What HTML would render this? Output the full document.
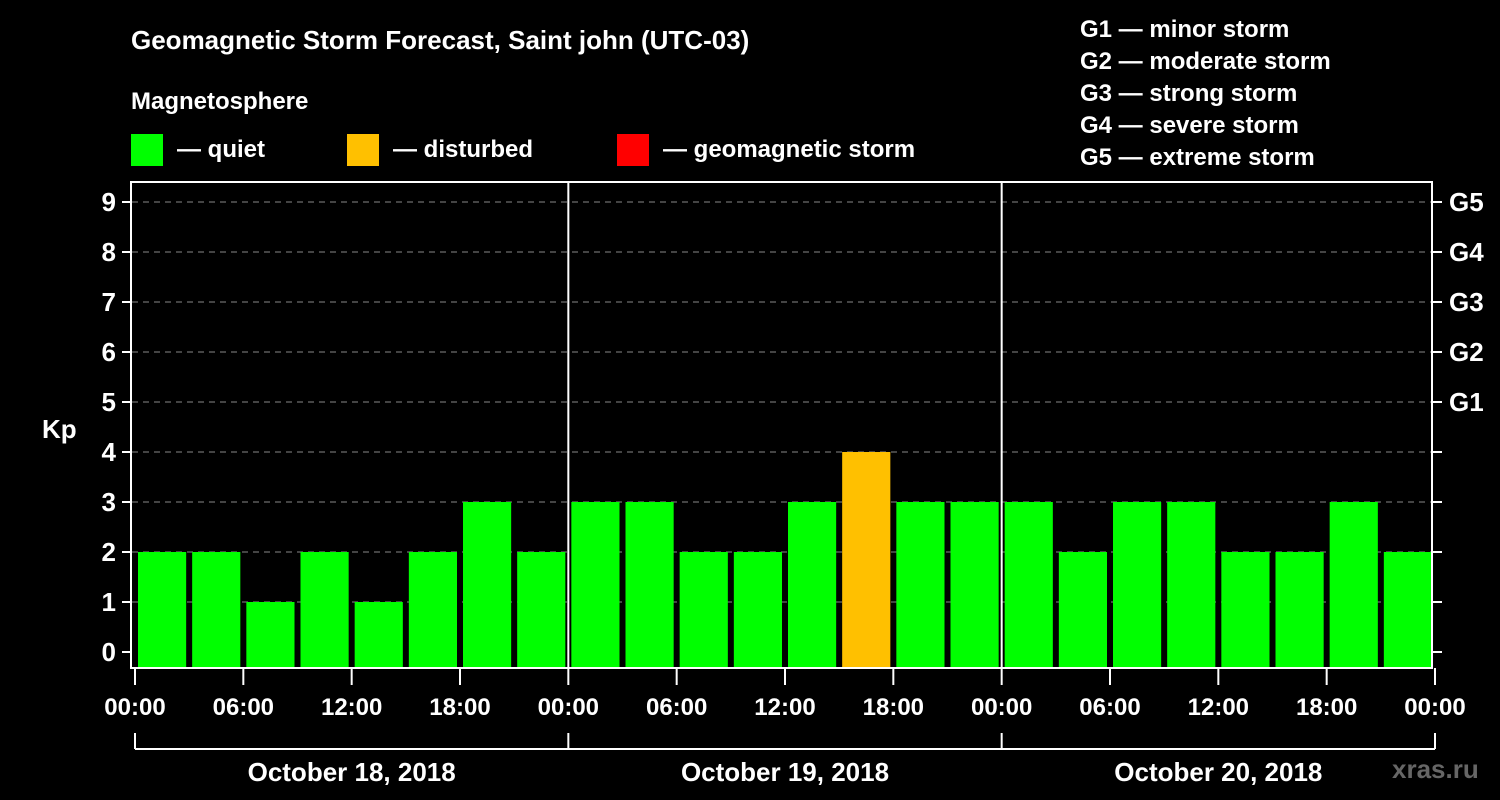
<!DOCTYPE html>
<html><head><meta charset="utf-8"><style>
body{margin:0;background:#000;}
svg{display:block;font-family:"Liberation Sans",Arial,sans-serif;font-weight:bold;}
</style></head><body>
<svg id="c" width="1500" height="800">
<text x="131" y="49" fill="#fff" font-size="26">Geomagnetic Storm Forecast, Saint john (UTC-03)</text>
<text x="131" y="109" fill="#fff" font-size="24">Magnetosphere</text>
<g><rect x="131" y="134" width="32" height="32" fill="#00ff00"/><text x="177" y="157" fill="#fff" font-size="24">— quiet</text></g>
<g><rect x="347" y="134" width="32" height="32" fill="#ffc000"/><text x="393" y="157" fill="#fff" font-size="24">— disturbed</text></g>
<g><rect x="617" y="134" width="32" height="32" fill="#ff0000"/><text x="663" y="157" fill="#fff" font-size="24">— geomagnetic storm</text></g>
<g fill="#fff" font-size="24">
<text x="1080" y="37">G1 — minor storm</text><text x="1080" y="69">G2 — moderate storm</text><text x="1080" y="101">G3 — strong storm</text><text x="1080" y="133">G4 — severe storm</text><text x="1080" y="165">G5 — extreme storm</text>
</g>
<text x="42" y="438" fill="#fff" font-size="26">Kp</text>
<text x="1392" y="778" fill="#666" font-size="26">xras.ru</text>
<g id="plot"></g>
</svg>
<script>
const values=[2,2,1,2,1,2,3,2,3,3,2,2,3,4,3,3,3,2,3,3,2,2,3,2];
const yTicks=[0,1,2,3,4,5,6,7,8,9];
const gLabels=[[5,"G1"],[6,"G2"],[7,"G3"],[8,"G4"],[9,"G5"]];
const xLabels=["00:00","06:00","12:00","18:00","00:00","06:00","12:00","18:00","00:00","06:00","12:00","18:00","00:00"];
const days=["October 18, 2018","October 19, 2018","October 20, 2018"];
const L=132,R=1432,T=182,B=668;
const y=v=>652-v*50;
const slot=(R-L)/values.length;
const x=i=>L+i*slot;
const ns="http://www.w3.org/2000/svg";
const p=document.getElementById('plot');
function mk(t,a,txt){const e=document.createElementNS(ns,t);for(const k in a)e.setAttribute(k,a[k]);if(txt!=null)e.textContent=txt;p.appendChild(e);return e;}
yTicks.forEach(v=>{
 if(v>0){const g=mk('line',{x1:L,x2:R,y1:y(v),y2:y(v),stroke:'#888','stroke-dasharray':'6,5','stroke-width':1});
 
 }
 mk('line',{x1:122,x2:L,y1:y(v),y2:y(v),stroke:'#fff','stroke-width':2});
 mk('line',{x1:R,x2:1442,y1:y(v),y2:y(v),stroke:'#fff','stroke-width':2});
 const t=mk('text',{x:116,y:y(v)+9,fill:'#fff','font-size':26,'text-anchor':'end'},v);
 
 
});
gLabels.forEach(g=>{const t=mk('text',{x:1449,y:y(g[0])+9,fill:'#fff','font-size':26},g[1]);
 
 });
values.forEach((v,i)=>{
 const c=v>=5?'#ff0000':v>=4?'#ffc000':'#00ff00';
 const b=mk('rect',{x:x(i)+6,y:y(v),width:slot-6,height:B-y(v),fill:c});
 
 
});
mk('rect',{x:L-1,y:T,width:R-L+1,height:B-T,fill:'none',stroke:'#fff','stroke-width':2});
[1,2].forEach(d=>mk('line',{x1:x(d*8)+3,x2:x(d*8)+3,y1:T,y2:B,stroke:'#fff','stroke-width':2}));
xLabels.forEach((l,i)=>{
 const xx=x(i*2)+3;
 mk('line',{x1:xx,x2:xx,y1:B,y2:685,stroke:'#fff','stroke-width':2});
 const t=mk('text',{x:xx,y:715,fill:'#fff','font-size':24,'text-anchor':'middle'},l);
 
 
});
mk('line',{x1:x(0)+3,x2:x(24)+3,y1:749,y2:749,stroke:'#fff','stroke-width':2});
[0,8,16,24].forEach(i=>mk('line',{x1:x(i)+3,x2:x(i)+3,y1:733,y2:749,stroke:'#fff','stroke-width':2}));
days.forEach((d,i)=>{const t=mk('text',{x:x(i*8+4)+3,y:781,fill:'#fff','font-size':26,'text-anchor':'middle'},d);
 
 });
</script>
</body></html>
